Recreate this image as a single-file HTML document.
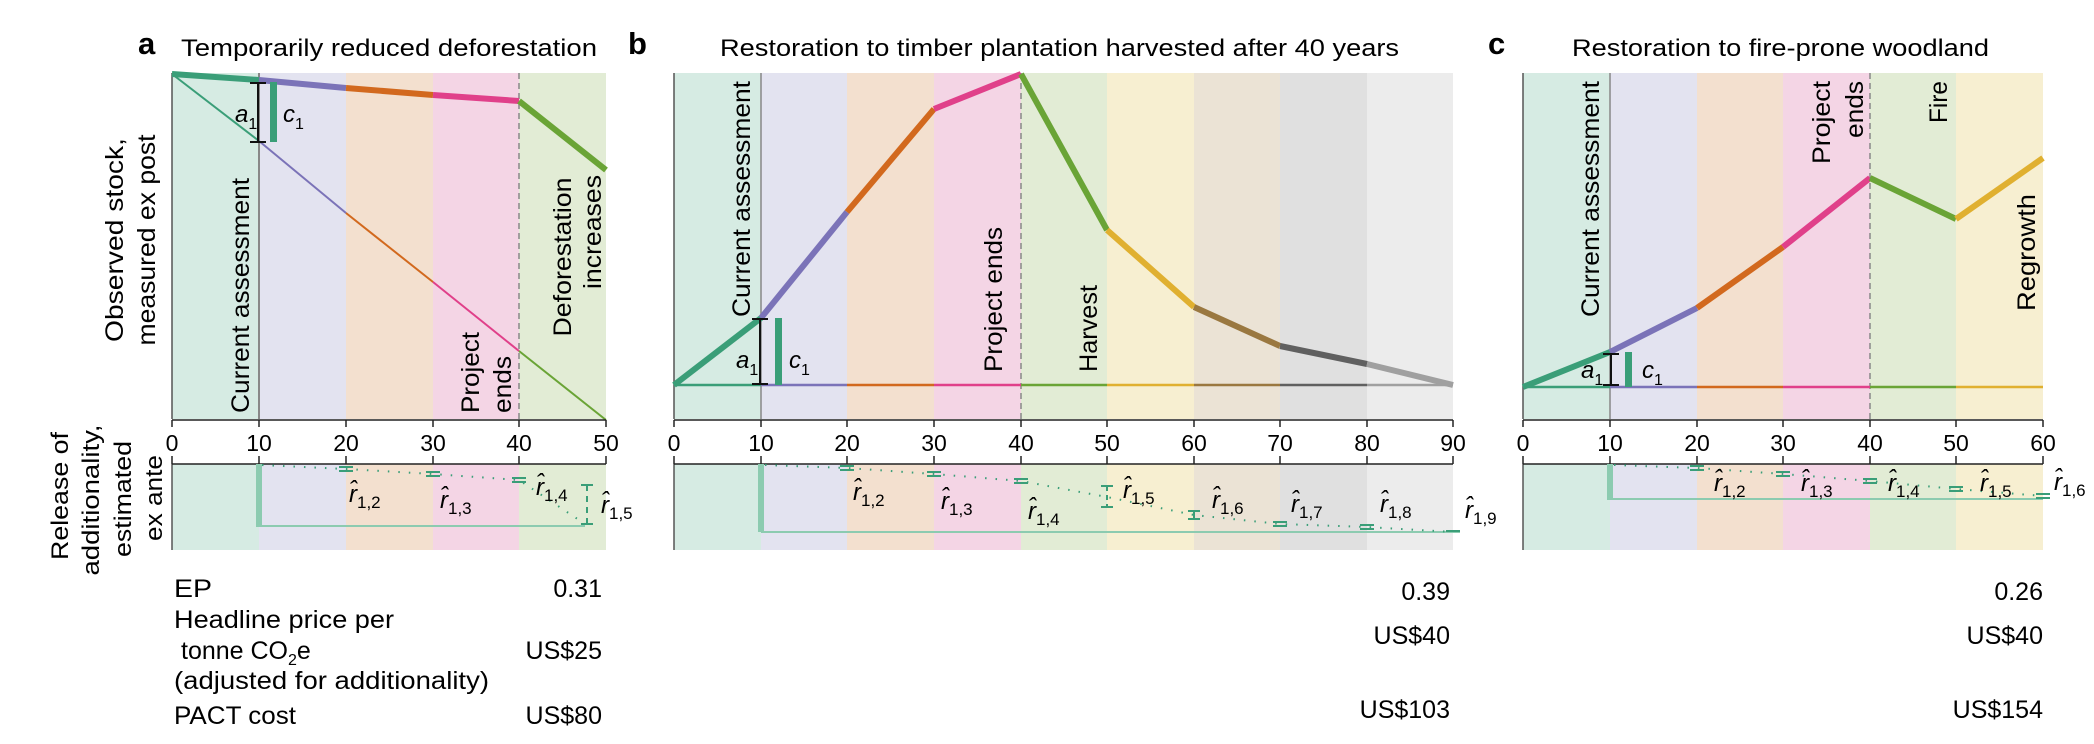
<!DOCTYPE html>
<html><head><meta charset="utf-8"><style>
html,body{margin:0;padding:0;background:#fff;}
svg{display:block;font-family:"Liberation Sans",sans-serif;}
</style></head><body>
<svg width="2094" height="744" viewBox="0 0 2094 744" xmlns="http://www.w3.org/2000/svg">
<!-- ============ PANEL A ============ -->
<g>
<rect x="172" y="73" width="87" height="346" fill="#d6ebe3"/>
<rect x="259" y="73" width="87" height="346" fill="#e3e3f0"/>
<rect x="346" y="73" width="87" height="346" fill="#f3e0cf"/>
<rect x="433" y="73" width="86" height="346" fill="#f4d5e5"/>
<rect x="519" y="73" width="87" height="346" fill="#e2ecd5"/>
<rect x="172" y="464" width="87" height="86" fill="#d6ebe3"/>
<rect x="259" y="464" width="87" height="86" fill="#e3e3f0"/>
<rect x="346" y="464" width="87" height="86" fill="#f3e0cf"/>
<rect x="433" y="464" width="86" height="86" fill="#f4d5e5"/>
<rect x="519" y="464" width="87" height="86" fill="#e2ecd5"/>
<line x1="172" y1="73" x2="172" y2="419" stroke="#555" stroke-width="1.5"/>
<line x1="172" y1="464" x2="172" y2="550" stroke="#555" stroke-width="1.5"/>
<line x1="259" y1="73" x2="259" y2="419" stroke="#888" stroke-width="2"/>
<line x1="519" y1="73" x2="519" y2="419" stroke="#888" stroke-width="1.5" stroke-dasharray="6,4"/>
<polyline points="172,74 259,141" fill="none" stroke="#3a9e78" stroke-width="2"/>
<polyline points="259,141 346,213" fill="none" stroke="#7b73b8" stroke-width="2"/>
<polyline points="346,213 433,282" fill="none" stroke="#d2691e" stroke-width="2"/>
<polyline points="433,282 519,351" fill="none" stroke="#e0408a" stroke-width="2"/>
<polyline points="519,351 606,420" fill="none" stroke="#6aa436" stroke-width="2"/>
<g stroke-width="6" fill="none" stroke-linecap="butt">
<line x1="172" y1="74" x2="259" y2="80" stroke="#3a9e78"/>
<line x1="259" y1="80" x2="346" y2="88" stroke="#7b73b8"/>
<line x1="346" y1="88" x2="433" y2="95" stroke="#d2691e"/>
<line x1="433" y1="95" x2="519" y2="101" stroke="#e0408a"/>
<line x1="519" y1="101" x2="606" y2="170" stroke="#6aa436"/>
</g>
<g stroke="#111" stroke-width="2"><line x1="258" y1="83" x2="258" y2="142"/><line x1="250" y1="83" x2="266" y2="83"/><line x1="250" y1="142" x2="266" y2="142"/></g>
<rect x="270" y="82" width="7" height="60" fill="#3a9e78"/>
<text x="235" y="122" font-size="24" font-style="italic">a<tspan font-size="16" font-style="normal" dy="7">1</tspan></text>
<text x="283" y="122" font-size="24" font-style="italic">c<tspan font-size="16" font-style="normal" dy="7">1</tspan></text>
<g font-size="25" lengthAdjust="spacingAndGlyphs">
<text transform="translate(249,413) rotate(-90)" textLength="235" lengthAdjust="spacingAndGlyphs">Current assessment</text>
<text transform="translate(479,413) rotate(-90)" textLength="81" lengthAdjust="spacingAndGlyphs">Project</text>
<text transform="translate(511,413) rotate(-90)" textLength="57" lengthAdjust="spacingAndGlyphs">ends</text>
<text transform="translate(571,257) rotate(-90)" text-anchor="middle" textLength="159" lengthAdjust="spacingAndGlyphs">Deforestation</text>
<text transform="translate(601,232) rotate(-90)" text-anchor="middle" textLength="114" lengthAdjust="spacingAndGlyphs">increases</text>
</g>
<line x1="172" y1="420" x2="606" y2="420" stroke="#222" stroke-width="1.5"/>
<g stroke="#222" stroke-width="1.5">
<line x1="172" y1="420" x2="172" y2="427"/><line x1="259" y1="420" x2="259" y2="427"/><line x1="346" y1="420" x2="346" y2="427"/><line x1="433" y1="420" x2="433" y2="427"/><line x1="519" y1="420" x2="519" y2="427"/><line x1="606" y1="420" x2="606" y2="427"/>
<line x1="172" y1="464" x2="606" y2="464"/>
<line x1="172" y1="464" x2="172" y2="456"/><line x1="259" y1="464" x2="259" y2="456"/><line x1="346" y1="464" x2="346" y2="456"/><line x1="433" y1="464" x2="433" y2="456"/><line x1="519" y1="464" x2="519" y2="456"/><line x1="606" y1="464" x2="606" y2="456"/>
</g>
<g font-size="23" text-anchor="middle">
<text x="172" y="451">0</text><text x="259" y="451">10</text><text x="346" y="451">20</text><text x="433" y="451">30</text><text x="519" y="451">40</text><text x="606" y="451">50</text>
</g>
<rect x="256" y="464" width="6" height="63" fill="#8ccbb0"/>
<line x1="259" y1="526" x2="585" y2="526" stroke="#8ccbb0" stroke-width="2"/>
<polyline points="262,465 346,469 433,474 519,480 585,524" fill="none" stroke="#3a9e78" stroke-width="2" stroke-dasharray="1.5,9"/>
<g stroke="#3a9e78" stroke-width="2">
<line x1="339" y1="467" x2="353" y2="467"/><line x1="339" y1="471" x2="353" y2="471"/>
<line x1="426" y1="472" x2="440" y2="472"/><line x1="426" y1="476" x2="440" y2="476"/>
<line x1="512" y1="478" x2="526" y2="478"/><line x1="512" y1="482" x2="526" y2="482"/>
<line x1="581" y1="485" x2="593" y2="485"/><line x1="581" y1="524" x2="593" y2="524"/><line x1="587" y1="485" x2="587" y2="524" stroke-dasharray="6,5"/>
</g>
<g font-size="24" font-style="italic">
<text x="349" y="502">r̂<tspan font-size="17" font-style="normal" dy="6">1,2</tspan></text>
<text x="440" y="508">r̂<tspan font-size="17" font-style="normal" dy="6">1,3</tspan></text>
<text x="536" y="495">r̂<tspan font-size="17" font-style="normal" dy="6">1,4</tspan></text>
<text x="601" y="513">r̂<tspan font-size="17" font-style="normal" dy="6">1,5</tspan></text>
</g>
<text x="138" y="54" font-size="31" font-weight="bold">a</text>
<text x="181" y="56" font-size="24" textLength="416" lengthAdjust="spacingAndGlyphs">Temporarily reduced deforestation</text>
<text transform="translate(123,240) rotate(-90)" font-size="25" text-anchor="middle" textLength="204" lengthAdjust="spacingAndGlyphs">Observed stock,</text>
<text transform="translate(155,240) rotate(-90)" font-size="25" text-anchor="middle" textLength="211" lengthAdjust="spacingAndGlyphs">measured ex post</text>
<g font-size="24" text-anchor="middle">
<text transform="translate(68,496) rotate(-90)" textLength="128" lengthAdjust="spacingAndGlyphs">Release of</text>
<text transform="translate(99,500) rotate(-90)" textLength="151" lengthAdjust="spacingAndGlyphs">additionality,</text>
<text transform="translate(131,499) rotate(-90)" textLength="116" lengthAdjust="spacingAndGlyphs">estimated</text>
<text transform="translate(162,498) rotate(-90)" textLength="86" lengthAdjust="spacingAndGlyphs">ex ante</text>
</g>
<g font-size="25">
<text x="174" y="597" textLength="38" lengthAdjust="spacingAndGlyphs">EP</text>
<text x="174" y="628" textLength="220" lengthAdjust="spacingAndGlyphs">Headline price per</text>
<text x="181" y="659">tonne CO<tspan font-size="16" dy="6">2</tspan><tspan dy="-6">e</tspan></text>
<text x="174" y="689" textLength="315" lengthAdjust="spacingAndGlyphs">(adjusted for additionality)</text>
<text x="174" y="724" textLength="122" lengthAdjust="spacingAndGlyphs">PACT cost</text>
</g>
<g font-size="25" text-anchor="end">
<text x="602" y="597">0.31</text><text x="602" y="659">US$25</text><text x="602" y="724">US$80</text>
</g>
</g>

<!-- ============ PANEL B ============ -->
<g>
<rect x="674" y="73" width="87" height="346" fill="#d6ebe3"/>
<rect x="761" y="73" width="86" height="346" fill="#e3e3f0"/>
<rect x="847" y="73" width="87" height="346" fill="#f3e0cf"/>
<rect x="934" y="73" width="87" height="346" fill="#f4d5e5"/>
<rect x="1021" y="73" width="86" height="346" fill="#e2ecd5"/>
<rect x="1107" y="73" width="87" height="346" fill="#f7efd1"/>
<rect x="1194" y="73" width="86" height="346" fill="#ebe3d5"/>
<rect x="1280" y="73" width="87" height="346" fill="#e0e0e0"/>
<rect x="1367" y="73" width="86" height="346" fill="#ececec"/>
<rect x="674" y="464" width="87" height="86" fill="#d6ebe3"/>
<rect x="761" y="464" width="86" height="86" fill="#e3e3f0"/>
<rect x="847" y="464" width="87" height="86" fill="#f3e0cf"/>
<rect x="934" y="464" width="87" height="86" fill="#f4d5e5"/>
<rect x="1021" y="464" width="86" height="86" fill="#e2ecd5"/>
<rect x="1107" y="464" width="87" height="86" fill="#f7efd1"/>
<rect x="1194" y="464" width="86" height="86" fill="#ebe3d5"/>
<rect x="1280" y="464" width="87" height="86" fill="#e0e0e0"/>
<rect x="1367" y="464" width="86" height="86" fill="#ececec"/>
<line x1="674" y1="73" x2="674" y2="419" stroke="#555" stroke-width="1.5"/>
<line x1="674" y1="464" x2="674" y2="550" stroke="#555" stroke-width="1.5"/>
<line x1="761" y1="73" x2="761" y2="419" stroke="#888" stroke-width="1.5"/>
<line x1="1021" y1="73" x2="1021" y2="419" stroke="#888" stroke-width="1.5" stroke-dasharray="6,4"/>
<g stroke-width="2.5">
<line x1="674" y1="385" x2="761" y2="385" stroke="#3a9e78"/>
<line x1="761" y1="385" x2="847" y2="385" stroke="#7b73b8"/>
<line x1="847" y1="385" x2="934" y2="385" stroke="#d2691e"/>
<line x1="934" y1="385" x2="1021" y2="385" stroke="#e0408a"/>
<line x1="1021" y1="385" x2="1107" y2="385" stroke="#6aa436"/>
<line x1="1107" y1="385" x2="1194" y2="385" stroke="#e0b030"/>
<line x1="1194" y1="385" x2="1280" y2="385" stroke="#9a7840"/>
<line x1="1280" y1="385" x2="1367" y2="385" stroke="#606060"/>
<line x1="1367" y1="385" x2="1453" y2="385" stroke="#a0a0a0"/>
</g>
<g stroke-width="6" fill="none">
<line x1="674" y1="385" x2="761" y2="318" stroke="#3a9e78"/>
<line x1="761" y1="318" x2="847" y2="212" stroke="#7b73b8"/>
<line x1="847" y1="212" x2="934" y2="109" stroke="#d2691e"/>
<line x1="934" y1="109" x2="1021" y2="74" stroke="#e0408a"/>
<line x1="1021" y1="74" x2="1107" y2="230" stroke="#6aa436"/>
<line x1="1107" y1="230" x2="1194" y2="307" stroke="#e0b030"/>
<line x1="1194" y1="307" x2="1280" y2="346" stroke="#9a7840"/>
<line x1="1280" y1="346" x2="1367" y2="364" stroke="#606060"/>
<line x1="1367" y1="364" x2="1453" y2="385" stroke="#a0a0a0"/>
</g>
<g stroke="#111" stroke-width="2"><line x1="760" y1="319" x2="760" y2="384"/><line x1="752" y1="319" x2="768" y2="319"/><line x1="752" y1="384" x2="768" y2="384"/></g>
<rect x="775" y="318" width="7" height="67" fill="#3a9e78"/>
<text x="736" y="368" font-size="24" font-style="italic">a<tspan font-size="16" font-style="normal" dy="7">1</tspan></text>
<text x="789" y="368" font-size="24" font-style="italic">c<tspan font-size="16" font-style="normal" dy="7">1</tspan></text>
<text transform="translate(750,317) rotate(-90)" font-size="25" textLength="236" lengthAdjust="spacingAndGlyphs">Current assessment</text>
<text transform="translate(1002,372) rotate(-90)" font-size="25" textLength="145" lengthAdjust="spacingAndGlyphs">Project ends</text>
<text transform="translate(1097,372) rotate(-90)" font-size="25" textLength="87" lengthAdjust="spacingAndGlyphs">Harvest</text>
<line x1="674" y1="420" x2="1453" y2="420" stroke="#222" stroke-width="1.5"/>
<line x1="674" y1="464" x2="1453" y2="464" stroke="#222" stroke-width="1.5"/>
<g stroke="#222" stroke-width="1.5">
<line x1="674" y1="420" x2="674" y2="427"/><line x1="761" y1="420" x2="761" y2="427"/><line x1="847" y1="420" x2="847" y2="427"/><line x1="934" y1="420" x2="934" y2="427"/><line x1="1021" y1="420" x2="1021" y2="427"/><line x1="1107" y1="420" x2="1107" y2="427"/><line x1="1194" y1="420" x2="1194" y2="427"/><line x1="1280" y1="420" x2="1280" y2="427"/><line x1="1367" y1="420" x2="1367" y2="427"/><line x1="1453" y1="420" x2="1453" y2="427"/>
<line x1="674" y1="464" x2="674" y2="456"/><line x1="761" y1="464" x2="761" y2="456"/><line x1="847" y1="464" x2="847" y2="456"/><line x1="934" y1="464" x2="934" y2="456"/><line x1="1021" y1="464" x2="1021" y2="456"/><line x1="1107" y1="464" x2="1107" y2="456"/><line x1="1194" y1="464" x2="1194" y2="456"/><line x1="1280" y1="464" x2="1280" y2="456"/><line x1="1367" y1="464" x2="1367" y2="456"/><line x1="1453" y1="464" x2="1453" y2="456"/>
</g>
<g font-size="23" text-anchor="middle">
<text x="674" y="451">0</text><text x="761" y="451">10</text><text x="847" y="451">20</text><text x="934" y="451">30</text><text x="1021" y="451">40</text><text x="1107" y="451">50</text><text x="1194" y="451">60</text><text x="1280" y="451">70</text><text x="1367" y="451">80</text><text x="1453" y="451">90</text>
</g>
<rect x="758" y="464" width="6" height="68" fill="#8ccbb0"/>
<line x1="761" y1="532" x2="1460" y2="532" stroke="#8ccbb0" stroke-width="2"/>
<polyline points="765,465 847,468 934,474 1021,481 1107,497 1194,515 1280,524 1367,527 1453,532" fill="none" stroke="#3a9e78" stroke-width="2" stroke-dasharray="1.5,9"/>
<g stroke="#3a9e78" stroke-width="2">
<line x1="840" y1="466" x2="854" y2="466"/><line x1="840" y1="470" x2="854" y2="470"/>
<line x1="927" y1="472" x2="941" y2="472"/><line x1="927" y1="476" x2="941" y2="476"/>
<line x1="1014" y1="479" x2="1028" y2="479"/><line x1="1014" y1="483" x2="1028" y2="483"/>
<line x1="1101" y1="486" x2="1113" y2="486"/><line x1="1101" y1="507" x2="1113" y2="507"/><line x1="1107" y1="486" x2="1107" y2="507" stroke-dasharray="5,4"/>
<line x1="1188" y1="511" x2="1200" y2="511"/><line x1="1188" y1="519" x2="1200" y2="519"/><line x1="1194" y1="511" x2="1194" y2="519"/>
<line x1="1273" y1="522" x2="1287" y2="522"/><line x1="1273" y1="526" x2="1287" y2="526"/>
<line x1="1360" y1="525" x2="1374" y2="525"/><line x1="1360" y1="529" x2="1374" y2="529"/>
<line x1="1446" y1="531" x2="1460" y2="531"/>
</g>
<g font-size="24" font-style="italic">
<text x="853" y="500">r̂<tspan font-size="17" font-style="normal" dy="6">1,2</tspan></text>
<text x="941" y="509">r̂<tspan font-size="17" font-style="normal" dy="6">1,3</tspan></text>
<text x="1028" y="519">r̂<tspan font-size="17" font-style="normal" dy="6">1,4</tspan></text>
<text x="1123" y="498">r̂<tspan font-size="17" font-style="normal" dy="6">1,5</tspan></text>
<text x="1212" y="508">r̂<tspan font-size="17" font-style="normal" dy="6">1,6</tspan></text>
<text x="1291" y="512">r̂<tspan font-size="17" font-style="normal" dy="6">1,7</tspan></text>
<text x="1380" y="512">r̂<tspan font-size="17" font-style="normal" dy="6">1,8</tspan></text>
<text x="1465" y="518">r̂<tspan font-size="17" font-style="normal" dy="6">1,9</tspan></text>
</g>
<text x="628" y="54" font-size="31" font-weight="bold">b</text>
<text x="720" y="56" font-size="24" textLength="679" lengthAdjust="spacingAndGlyphs">Restoration to timber plantation harvested after 40 years</text>
<g font-size="25" text-anchor="end">
<text x="1450" y="600">0.39</text><text x="1450" y="644">US$40</text><text x="1450" y="718">US$103</text>
</g>
</g>

<!-- ============ PANEL C ============ -->
<g>
<rect x="1523" y="73" width="87" height="346" fill="#d6ebe3"/>
<rect x="1610" y="73" width="87" height="346" fill="#e3e3f0"/>
<rect x="1697" y="73" width="86" height="346" fill="#f3e0cf"/>
<rect x="1783" y="73" width="87" height="346" fill="#f4d5e5"/>
<rect x="1870" y="73" width="86" height="346" fill="#e2ecd5"/>
<rect x="1956" y="73" width="87" height="346" fill="#f7efd1"/>
<rect x="1523" y="464" width="87" height="86" fill="#d6ebe3"/>
<rect x="1610" y="464" width="87" height="86" fill="#e3e3f0"/>
<rect x="1697" y="464" width="86" height="86" fill="#f3e0cf"/>
<rect x="1783" y="464" width="87" height="86" fill="#f4d5e5"/>
<rect x="1870" y="464" width="86" height="86" fill="#e2ecd5"/>
<rect x="1956" y="464" width="87" height="86" fill="#f7efd1"/>
<line x1="1523" y1="73" x2="1523" y2="419" stroke="#555" stroke-width="1.5"/>
<line x1="1523" y1="464" x2="1523" y2="550" stroke="#555" stroke-width="1.5"/>
<line x1="1610" y1="73" x2="1610" y2="419" stroke="#888" stroke-width="1.5"/>
<line x1="1870" y1="73" x2="1870" y2="419" stroke="#888" stroke-width="1.5" stroke-dasharray="6,4"/>
<g stroke-width="2.5">
<line x1="1523" y1="387" x2="1610" y2="387" stroke="#3a9e78"/>
<line x1="1610" y1="387" x2="1697" y2="387" stroke="#7b73b8"/>
<line x1="1697" y1="387" x2="1783" y2="387" stroke="#d2691e"/>
<line x1="1783" y1="387" x2="1870" y2="387" stroke="#e0408a"/>
<line x1="1870" y1="387" x2="1956" y2="387" stroke="#6aa436"/>
<line x1="1956" y1="387" x2="2043" y2="387" stroke="#e0b030"/>
</g>
<g stroke-width="6" fill="none">
<line x1="1523" y1="387" x2="1610" y2="352" stroke="#3a9e78"/>
<line x1="1610" y1="352" x2="1697" y2="308" stroke="#7b73b8"/>
<line x1="1697" y1="308" x2="1783" y2="247" stroke="#d2691e"/>
<line x1="1783" y1="247" x2="1870" y2="178" stroke="#e0408a"/>
<line x1="1870" y1="178" x2="1956" y2="219" stroke="#6aa436"/>
<line x1="1956" y1="219" x2="2043" y2="158" stroke="#e0b030"/>
</g>
<g stroke="#111" stroke-width="2"><line x1="1611" y1="354" x2="1611" y2="385"/><line x1="1603" y1="354" x2="1619" y2="354"/><line x1="1603" y1="385" x2="1619" y2="385"/></g>
<rect x="1625" y="352" width="7" height="35" fill="#3a9e78"/>
<text x="1581" y="378" font-size="24" font-style="italic">a<tspan font-size="16" font-style="normal" dy="7">1</tspan></text>
<text x="1642" y="378" font-size="24" font-style="italic">c<tspan font-size="16" font-style="normal" dy="7">1</tspan></text>
<text transform="translate(1599,317) rotate(-90)" font-size="25" textLength="236" lengthAdjust="spacingAndGlyphs">Current assessment</text>
<text transform="translate(1830,81) rotate(-90)" font-size="25" text-anchor="end" textLength="83" lengthAdjust="spacingAndGlyphs">Project</text>
<text transform="translate(1863,81) rotate(-90)" font-size="25" text-anchor="end" textLength="57" lengthAdjust="spacingAndGlyphs">ends</text>
<text transform="translate(1947,81) rotate(-90)" font-size="25" text-anchor="end" textLength="42" lengthAdjust="spacingAndGlyphs">Fire</text>
<text transform="translate(2035,311) rotate(-90)" font-size="25" textLength="117" lengthAdjust="spacingAndGlyphs">Regrowth</text>
<line x1="1523" y1="420" x2="2043" y2="420" stroke="#222" stroke-width="1.5"/>
<line x1="1523" y1="464" x2="2043" y2="464" stroke="#222" stroke-width="1.5"/>
<g stroke="#222" stroke-width="1.5">
<line x1="1523" y1="420" x2="1523" y2="427"/><line x1="1610" y1="420" x2="1610" y2="427"/><line x1="1697" y1="420" x2="1697" y2="427"/><line x1="1783" y1="420" x2="1783" y2="427"/><line x1="1870" y1="420" x2="1870" y2="427"/><line x1="1956" y1="420" x2="1956" y2="427"/><line x1="2043" y1="420" x2="2043" y2="427"/>
<line x1="1523" y1="464" x2="1523" y2="456"/><line x1="1610" y1="464" x2="1610" y2="456"/><line x1="1697" y1="464" x2="1697" y2="456"/><line x1="1783" y1="464" x2="1783" y2="456"/><line x1="1870" y1="464" x2="1870" y2="456"/><line x1="1956" y1="464" x2="1956" y2="456"/><line x1="2043" y1="464" x2="2043" y2="456"/>
</g>
<g font-size="23" text-anchor="middle">
<text x="1523" y="451">0</text><text x="1610" y="451">10</text><text x="1697" y="451">20</text><text x="1783" y="451">30</text><text x="1870" y="451">40</text><text x="1956" y="451">50</text><text x="2043" y="451">60</text>
</g>
<rect x="1607" y="464" width="6" height="36" fill="#8ccbb0"/>
<line x1="1610" y1="499" x2="2043" y2="499" stroke="#8ccbb0" stroke-width="2"/>
<polyline points="1614,465 1697,468 1783,474 1870,481 1956,489 2043,496" fill="none" stroke="#3a9e78" stroke-width="2" stroke-dasharray="1.5,9"/>
<g stroke="#3a9e78" stroke-width="2">
<line x1="1690" y1="466" x2="1704" y2="466"/><line x1="1690" y1="470" x2="1704" y2="470"/>
<line x1="1776" y1="472" x2="1790" y2="472"/><line x1="1776" y1="476" x2="1790" y2="476"/>
<line x1="1863" y1="479" x2="1877" y2="479"/><line x1="1863" y1="483" x2="1877" y2="483"/>
<line x1="1949" y1="487" x2="1963" y2="487"/><line x1="1949" y1="491" x2="1963" y2="491"/>
<line x1="2036" y1="494" x2="2050" y2="494"/><line x1="2036" y1="498" x2="2050" y2="498"/>
</g>
<g font-size="24" font-style="italic">
<text x="1714" y="491">r̂<tspan font-size="17" font-style="normal" dy="6">1,2</tspan></text>
<text x="1801" y="491">r̂<tspan font-size="17" font-style="normal" dy="6">1,3</tspan></text>
<text x="1888" y="491">r̂<tspan font-size="17" font-style="normal" dy="6">1,4</tspan></text>
<text x="1980" y="491">r̂<tspan font-size="17" font-style="normal" dy="6">1,5</tspan></text>
<text x="2054" y="490">r̂<tspan font-size="17" font-style="normal" dy="6">1,6</tspan></text>
</g>
<text x="1488" y="54" font-size="31" font-weight="bold">c</text>
<text x="1572" y="56" font-size="24" textLength="417" lengthAdjust="spacingAndGlyphs">Restoration to fire-prone woodland</text>
<g font-size="25" text-anchor="end">
<text x="2043" y="600">0.26</text><text x="2043" y="644">US$40</text><text x="2043" y="718">US$154</text>
</g>
</g>
</svg>
</body></html>
